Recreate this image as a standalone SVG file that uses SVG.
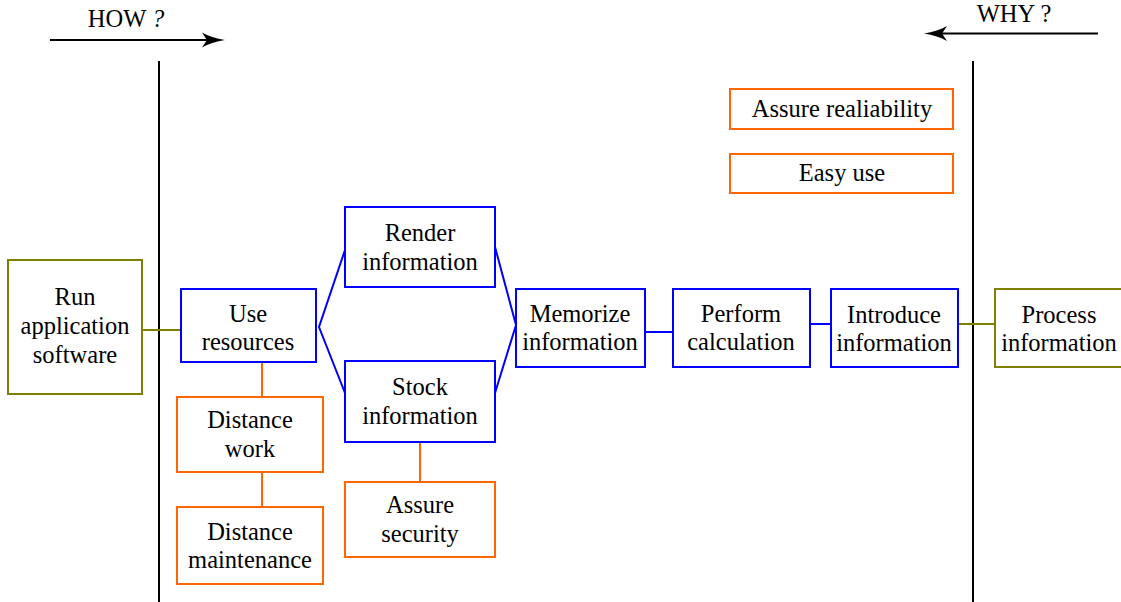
<svg xmlns="http://www.w3.org/2000/svg" width="1121" height="602" viewBox="0 0 1121 602" font-family="'Liberation Serif', 'Times New Roman', 'DejaVu Serif', serif">
<style>
text{font-family:'Liberation Serif','Times New Roman','DejaVu Serif',serif;font-size:24.5px;fill:#000;text-anchor:middle}
.b{fill:#fff;stroke:#0000ff;stroke-width:2}
.o{fill:#fff;stroke:#ff6600;stroke-width:2}
.g{fill:#fff;stroke:#808000;stroke-width:2}
.lb{stroke:#0000ff;stroke-width:2;fill:none}
.lo{stroke:#ff6600;stroke-width:2;fill:none}
.lg{stroke:#808000;stroke-width:2;fill:none}
.k{stroke:#000;stroke-width:2;fill:none}
</style>
<rect width="1121" height="602" fill="#fff"/>
<g id="axes">
<line class="k" x1="159" y1="61" x2="159" y2="602"/>
<line class="k" x1="973" y1="61" x2="973" y2="602"/>
<line class="k" x1="50" y1="40" x2="218" y2="40"/>
<path d="M225,40 C216,41.5 208,44 202,47.5 L207,40 L202,32.5 C208,36 216,38.5 225,40 Z" fill="#000"/>
<text x="126" y="27">HOW <tspan font-style="italic">?</tspan></text>
<line class="k" x1="1098" y1="33.5" x2="931" y2="33.5"/>
<path d="M924,33.5 C933,35 941,37.5 947,41 L942,33.5 L947,26 C941,29.5 933,32 924,33.5 Z" fill="#000"/>
<text x="1014" y="22">WHY ?</text>
</g>
<g id="connectors">
<line class="lg" x1="141" y1="330" x2="181" y2="330"/>
<polyline class="lb" points="345,250 319,327 345,393"/>
<polyline class="lb" points="495,247 516,325 495,393"/>
<line class="lb" x1="644" y1="332" x2="674" y2="332"/>
<line class="lb" x1="809" y1="324" x2="832" y2="324"/>
<line class="lg" x1="958" y1="324" x2="996" y2="324"/>
<line class="lo" x1="262" y1="362" x2="262" y2="397"/>
<line class="lo" x1="262" y1="472" x2="262" y2="507"/>
<line class="lo" x1="420" y1="442" x2="420" y2="482"/>
</g>
<g id="run-app">
<rect class="g" x="8" y="260" width="134" height="134"/>
<text x="75" y="305">Run</text><text x="75" y="334">application</text><text x="75" y="363">software</text>
</g>
<g id="use-resources">
<rect class="b" x="181" y="289" width="135" height="73"/>
<text x="248" y="322">Use</text><text x="248" y="350">resources</text>
</g>
<g id="render-info">
<rect class="b" x="345" y="207" width="150" height="80"/>
<text x="420" y="241">Render</text><text x="420" y="270">information</text>
</g>
<g id="stock-info">
<rect class="b" x="345" y="361" width="150" height="81"/>
<text x="420" y="395">Stock</text><text x="420" y="424">information</text>
</g>
<g id="memorize-info">
<rect class="b" x="516" y="289" width="129" height="78"/>
<text x="580" y="322">Memorize</text><text x="580" y="350">information</text>
</g>
<g id="perform-calc">
<rect class="b" x="673" y="289" width="137" height="78"/>
<text x="741" y="322">Perform</text><text x="741" y="350">calculation</text>
</g>
<g id="introduce-info">
<rect class="b" x="831" y="289" width="127" height="78"/>
<text x="894" y="323">Introduce</text><text x="894" y="351">information</text>
</g>
<g id="process-info">
<rect class="g" x="995" y="289" width="132" height="78"/>
<text x="1059" y="323">Process</text><text x="1059" y="351">information</text>
</g>
<g id="distance-work">
<rect class="o" x="177" y="397" width="146" height="75"/>
<text x="250" y="428">Distance</text><text x="250" y="457">work</text>
</g>
<g id="distance-maint">
<rect class="o" x="177" y="507" width="146" height="77"/>
<text x="250" y="540">Distance</text><text x="250" y="568">maintenance</text>
</g>
<g id="assure-security">
<rect class="o" x="345" y="482" width="150" height="75"/>
<text x="420" y="513">Assure</text><text x="420" y="542">security</text>
</g>
<g id="assure-reliability">
<rect class="o" x="730" y="89" width="223" height="40"/>
<text x="842" y="117">Assure realiability</text>
</g>
<g id="easy-use">
<rect class="o" x="730" y="154" width="223" height="39"/>
<text x="842" y="181">Easy use</text>
</g>
</svg>
